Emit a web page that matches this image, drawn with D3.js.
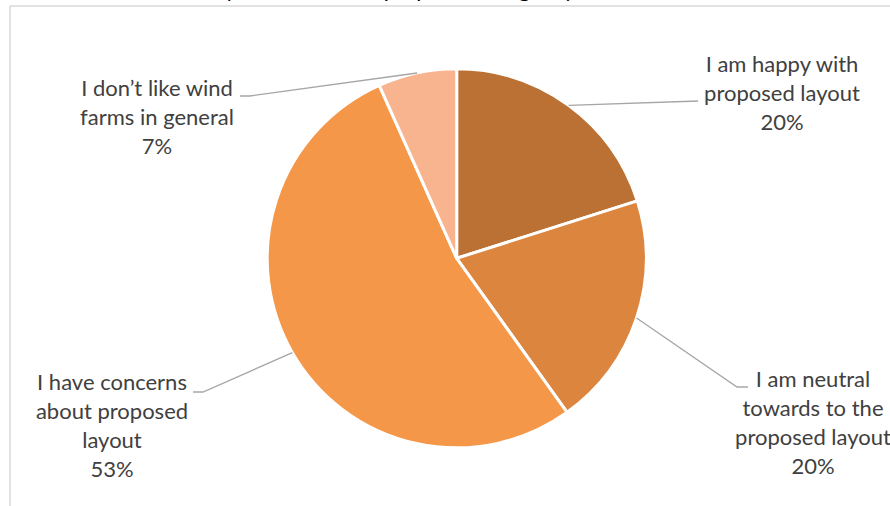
<!DOCTYPE html>
<html>
<head>
<meta charset="utf-8">
<script src="https://cdn.jsdelivr.net/npm/d3@7"></script>
<style>
  html, body { margin: 0; padding: 0; background: #fff; overflow: hidden; }
  svg { display: block; }
</style>
</head>
<body>
<svg id="chart" width="890" height="506"></svg>
<script>
// ---- data ----
const categories = [
  "I am happy with proposed layout",
  "I am neutral towards to the proposed layout",
  "I have concerns about proposed layout",
  "I don\u2019t like wind farms in general"
];
const values = [20.1, 20.0, 53.2, 6.7];
const labelLines = [
  ["I am happy with", "proposed layout"],
  ["I am neutral", "towards to the", "proposed layout"],
  ["I have concerns", "about proposed", "layout"],
  ["I don\u2019t like wind", "farms in general"]
];
const colors = ["#BA7133", "#DC853F", "#F59748", "#F8B48E"];
const titleText = "Q: What do you think of the proposed design layout of the wind farm?";

// ---- layout (positions only) ----
const W = 890, H = 506;
const cx = 456.7, cy = 258.3, R = 189.5;
const labelPos = [
  { x: 782, y: 72, leader: [[698, 101]] },
  { x: 813, y: 387, leader: [[748, 387], [737, 387]] },
  { x: 112, y: 390, leader: [[193, 392], [203, 392]] },
  { x: 157, y: 96, leader: [[240, 96], [250, 96]] }
];
const lineH = 29;
const fontFam = "Lato, 'Open Sans', sans-serif";

const svg = d3.select("#chart");

// cut-off title above the chart area (as in the reference)
svg.append("text")
  .attr("x", 445).attr("y", -3)
  .attr("text-anchor", "middle")
  .attr("font-family", fontFam)
  .attr("font-size", 22)
  .attr("fill", "#000")
  .text(titleText);

// chart area border
svg.append("rect")
  .attr("x", 10).attr("y", 6)
  .attr("width", 900).attr("height", 520)
  .attr("fill", "none")
  .attr("stroke", "#D9D9D9")
  .attr("stroke-width", 1.5);

const pie = d3.pie().sort(null).value(d => d)(values);
const arc = d3.arc().innerRadius(0).outerRadius(R);
const edge = d3.arc().innerRadius(R).outerRadius(R);

const g = svg.append("g").attr("transform", `translate(${cx},${cy})`);
g.selectAll("path.slice")
  .data(pie)
  .join("path")
  .attr("class", "slice")
  .attr("d", arc)
  .attr("fill", (d, i) => colors[i])
  .attr("stroke", "#fff")
  .attr("stroke-width", 3)
  .attr("stroke-linejoin", "round");

const total = d3.sum(values);

// leader lines
pie.forEach((d, i) => {
  const c = edge.centroid(d);
  const pts = labelPos[i].leader.concat([[cx + c[0], cy + c[1]]]);
  svg.append("path")
    .attr("d", d3.line()(pts))
    .attr("fill", "none")
    .attr("stroke", "#A6A6A6")
    .attr("stroke-width", 1.3);
});

// labels
pie.forEach((d, i) => {
  const lines = labelLines[i].concat([Math.round(values[i] / total * 100) + "%"]);
  const t = svg.append("text")
    .attr("text-anchor", "middle")
    .attr("font-family", fontFam)
    .attr("font-size", 22)
    .attr("fill", "#404040");
  lines.forEach((ln, k) => {
    t.append("tspan")
      .attr("x", labelPos[i].x)
      .attr("y", labelPos[i].y + k * lineH)
      .text(ln);
  });
});
</script>
</body>
</html>
